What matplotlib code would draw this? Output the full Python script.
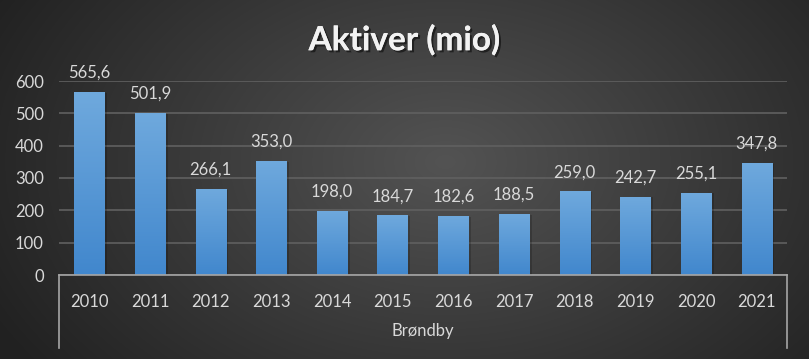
import numpy as np
import matplotlib
matplotlib.use("Agg")
import matplotlib.pyplot as plt
from matplotlib.colors import LinearSegmentedColormap
import matplotlib.patheffects as pe

years = ["2010", "2011", "2012", "2013", "2014", "2015", "2016", "2017", "2018", "2019", "2020", "2021"]
values = [565.6, 501.9, 266.1, 353.0, 198.0, 184.7, 182.6, 188.5, 259.0, 242.7, 255.1, 347.8]
labels = ["565,6", "501,9", "266,1", "353,0", "198,0", "184,7", "182,6", "188,5", "259,0", "242,7", "255,1", "347,8"]
group = "Brøndby"
title = "Aktiver (mio)"

plt.rcParams['font.family'] = ['Lato', 'DejaVu Sans']

W, H = 809, 359
fig = plt.figure(figsize=(W / 100, H / 100), dpi=100)

# background radial gradient
bg = fig.add_axes([0, 0, 1, 1])
yy, xx = np.mgrid[0:H, 0:W]
cx, cy = W * 0.55, H * 0.45
r = np.sqrt(((xx - cx) / (W * 0.62)) ** 2 + ((yy - cy) / (H * 0.95)) ** 2)
r = np.clip(r, 0, 1)
c_in = np.array([0x53, 0x53, 0x53]) / 255
c_out = np.array([0x22, 0x22, 0x22]) / 255
img = c_in[None, None, :] * (1 - r[..., None]) + c_out[None, None, :] * r[..., None]
bg.imshow(img, aspect='auto', extent=[0, 1, 0, 1], zorder=0)
bg.axis('off')

left, right = 59 / W, 787 / W
bottom, top = 1 - 275 / H, 1 - 81 / H
ax = fig.add_axes([left, bottom, right - left, top - bottom])
ax.patch.set_alpha(0)

x = np.arange(len(years))
bars = ax.bar(x, values, width=0.5, color='none', zorder=3)

cmap = LinearSegmentedColormap.from_list('b', ['#4187cd', '#6fa9dd'])
grad = np.linspace(0, 1, 256).reshape(-1, 1)
for b in bars:
    x0, y0 = b.get_x(), b.get_y()
    w, h = b.get_width(), b.get_height()
    ax.bar(x0 + w / 2 + 0.04, h, width=w, bottom=-3, color='black', alpha=0.18, zorder=2)
    im = ax.imshow(grad, cmap=cmap, origin='lower', aspect='auto',
                   extent=[x0, x0 + w, y0, y0 + h], zorder=3)
    im.set_clip_path(b)

ax.set_xlim(-0.5, len(years) - 0.5)
ax.set_ylim(0, 600)

for xi, v, lab in zip(x, values, labels):
    ax.annotate(lab, (xi, v), xytext=(0, 8), textcoords='offset points',
                ha='center', va='bottom', color='#d9d9d9', fontsize=12)

ax.set_yticks(np.arange(0, 601, 100))
ax.yaxis.grid(True, color='#606060', linewidth=1.2, zorder=0)
ax.set_axisbelow(True)
ax.tick_params(axis='y', length=0, colors='#d9d9d9', labelsize=12, pad=11)
ax.set_xticks(x)
ax.set_xticklabels(years)
ax.tick_params(axis='x', length=0, colors='#d9d9d9', labelsize=12, pad=14)
for s in ['top', 'right', 'left']:
    ax.spines[s].set_visible(False)
ax.spines['bottom'].set_color('#a6a6a6')
ax.spines['bottom'].set_linewidth(1.2)
ax.spines['bottom'].set_zorder(5)

for xf in (left, right):
    fig.add_artist(plt.Line2D([xf, xf], [1 - 275 / H, 1 - 348 / H], color='#a6a6a6',
                              linewidth=1.2, transform=fig.transFigure))
fig.text((left + right) / 2, 1 - 331 / H, group, ha='center', va='center',
         color='#d9d9d9', fontsize=12)

fig.text(0.5, 1 - 40 / H, title, ha='center', va='center', color='#f2f2f2',
         fontsize=24, fontweight='bold',
         path_effects=[pe.withSimplePatchShadow(offset=(1.5, -1.5), shadow_rgbFace='black', alpha=0.5),
                       pe.Normal()])

fig.savefig('out.png', dpi=100)
